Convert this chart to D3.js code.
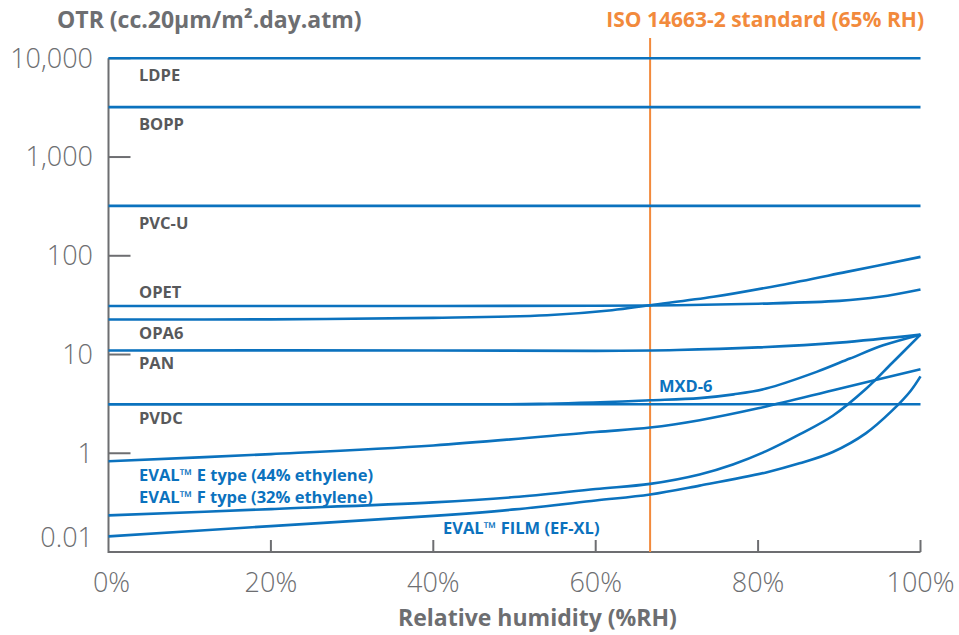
<!DOCTYPE html>
<html>
<head>
<meta charset="utf-8">
<script src="https://cdn.jsdelivr.net/npm/d3@7"></script>
<style>
  body { margin: 0; background: #fff; }
  text { font-family: "Open Sans", Lato, sans-serif; }
</style>
</head>
<body>
<script>
// x ticks (% RH)
const xTicks = [0, 20, 40, 60, 80, 100];
// y ticks: the bottom label sits at the axis floor (broken axis in the original)
const yTicks = [10000, 1000, 100, 10, 1, 0.14];
const yTickLabels = ["10,000", "1,000", "100", "10", "1", "0.01"];
const isoRH = 66.7;

// flat films
const ldpe = [[0, 10000], [100, 10000]];
const bopp = [[0, 3200], [100, 3200]];
const pvcu = [[0, 320], [100, 320]];
const pvdc = [[0, 3.14], [100, 3.14]];

// humidity sensitive films  [rh, otr]
const opet = [[0, 31], [30, 31], [60, 31.2], [70, 31.6], [80, 32.7], [90, 34.9], [95, 38.4], [100, 45.6]];
const opa6 = [[0, 22.6], [20, 22.7], [40, 23.5], [54, 25], [62, 28.1], [66.7, 31.6], [74.5, 38.4], [82.7, 50.4], [90.9, 68.7], [100, 97.5]];
const pan = [[0, 11], [40, 11], [60, 10.9], [70, 11.1], [80, 11.8], [90, 13.2], [100, 15.9]];
const mxd6 = [[0, 3.14], [40, 3.14], [53, 3.16], [66.7, 3.44], [72.8, 3.62], [77, 3.95], [81, 4.52], [87.2, 6.67], [91.3, 9.1], [95.4, 12.4], [100, 15.9]];
const evalE = [[0, 0.83], [20, 0.98], [40, 1.2], [60, 1.64], [66.7, 1.82], [72.8, 2.16], [80, 2.85], [90, 4.5], [100, 7.1]];
const evalF = [[0, 0.235], [20, 0.272], [40, 0.318], [50, 0.36], [60, 0.435], [66.7, 0.49], [72.8, 0.61], [76.9, 0.77], [81, 1.05], [85.1, 1.55], [89.2, 2.4], [93.3, 4.5], [96.5, 8.2], [100, 15.9]];
const efxl = [[0, 0.144], [20, 0.183], [40, 0.232], [50, 0.27], [60, 0.332], [66.7, 0.382], [72.8, 0.47], [81, 0.64], [85.1, 0.79], [89.2, 1.03], [93.3, 1.6], [96.5, 2.7], [98.8, 4.3], [100, 6.0]];

const series = [ldpe, bopp, pvcu, opet, opa6, pan, pvdc, mxd6, evalE, evalF, efxl];

// gray film names, each tied to its line (dy = offset from the line at 0%)
const grayLabels = [
  {name: "LDPE", line: ldpe, dy: 17},
  {name: "BOPP", line: bopp, dy: 17},
  {name: "PVC-U", line: pvcu, dy: 17},
  {name: "OPET", line: opet, dy: -14},
  {name: "OPA6", line: opa6, dy: 14},
  {name: "PAN", line: pan, dy: 13},
  {name: "PVDC", line: pvdc, dy: 14}
];

const W = 959, H = 635;
const grey = "#6d6e71", blue = "#0b72be", orange = "#f28a3c";

const svg = d3.select("body").append("svg")
  .attr("width", W)
  .attr("height", H);

const x = d3.scaleLinear().domain([0, 100]).range([108.5, 920.5]);
const y = d3.scaleLog().domain([0.1, 10000]).range([552, 58.3]);

// axes
svg.append("path")
  .attr("d", `M${x(0)},${y(10000)}V${y(0.1)}H${x(100)}`)
  .attr("fill", "none")
  .attr("stroke", grey)
  .attr("stroke-width", 2);

svg.append("g").selectAll("line")
  .data(xTicks.filter(d => d > 0))
  .enter().append("line")
  .attr("x1", d => x(d)).attr("x2", d => x(d))
  .attr("y1", y(0.1)).attr("y2", y(0.1) - 12)
  .attr("stroke", grey).attr("stroke-width", 2);

svg.append("g").selectAll("text")
  .data(xTicks)
  .enter().append("text")
  .attr("x", d => x(d) + (d === 0 ? 3 : 0))
  .attr("y", 583)
  .attr("dy", "0.35em")
  .attr("text-anchor", "middle")
  .attr("font-size", 27)
  .attr("font-weight", 300)
  .attr("fill", grey)
  .text(d => d + "%");

svg.append("g").selectAll("line")
  .data(yTicks.slice(0, 5))
  .enter().append("line")
  .attr("x1", x(0)).attr("x2", x(0) + 22)
  .attr("y1", d => y(d)).attr("y2", d => y(d))
  .attr("stroke", grey).attr("stroke-width", 2);

svg.append("g").selectAll("text")
  .data(yTicks)
  .enter().append("text")
  .attr("x", 93)
  .attr("y", d => y(d))
  .attr("dy", "0.35em")
  .attr("text-anchor", "end")
  .attr("font-size", 27)
  .attr("font-weight", 300)
  .attr("fill", grey)
  .text((d, i) => yTickLabels[i]);

// axis titles
svg.append("text")
  .attr("x", 57).attr("y", 20).attr("dy", "0.35em")
  .attr("font-size", 23).attr("font-weight", "bold").attr("fill", grey)
  .text("OTR (cc.20μm/m².day.atm)");

svg.append("text")
  .attr("x", 398).attr("y", 618).attr("dy", "0.35em")
  .attr("font-size", 23).attr("font-weight", "bold").attr("fill", grey)
  .text("Relative humidity (%RH)");

// ISO reference line
svg.append("line")
  .attr("x1", x(isoRH)).attr("x2", x(isoRH))
  .attr("y1", 38).attr("y2", y(0.1))
  .attr("stroke", orange).attr("stroke-width", 2);

svg.append("text")
  .attr("x", 924).attr("y", 20).attr("dy", "0.35em")
  .attr("text-anchor", "end")
  .attr("font-size", 21).attr("font-weight", "bold").attr("fill", orange)
  .text("ISO 14663-2 standard (65% RH)");

// film lines
const line = d3.line()
  .x(d => x(d[0]))
  .y(d => y(d[1]))
  .curve(d3.curveCatmullRom.alpha(0.5));

svg.append("g").selectAll("path")
  .data(series)
  .enter().append("path")
  .attr("d", line)
  .attr("fill", "none")
  .attr("stroke", blue)
  .attr("stroke-width", 2.6);

// labels
svg.append("g").selectAll("text")
  .data(grayLabels)
  .enter().append("text")
  .attr("x", 139)
  .attr("y", d => y(d.line[0][1]) + d.dy)
  .attr("dy", "0.35em")
  .attr("font-size", 16.5)
  .attr("font-weight", "bold")
  .attr("fill", "#58595b")
  .text(d => d.name);

const blueLabels = [
  {name: "MXD-6", x: 659, y: 386},
  {name: "EVAL™ E type (44% ethylene)", x: 139, y: 475},
  {name: "EVAL™ F type (32% ethylene)", x: 139, y: 497},
  {name: "EVAL™ FILM (EF-XL)", x: 443, y: 528}
];

svg.append("g").selectAll("text")
  .data(blueLabels)
  .enter().append("text")
  .attr("x", d => d.x)
  .attr("y", d => d.y)
  .attr("dy", "0.35em")
  .attr("font-size", 16.5)
  .attr("font-weight", "bold")
  .attr("fill", blue)
  .text(d => d.name);
</script>
</body>
</html>
